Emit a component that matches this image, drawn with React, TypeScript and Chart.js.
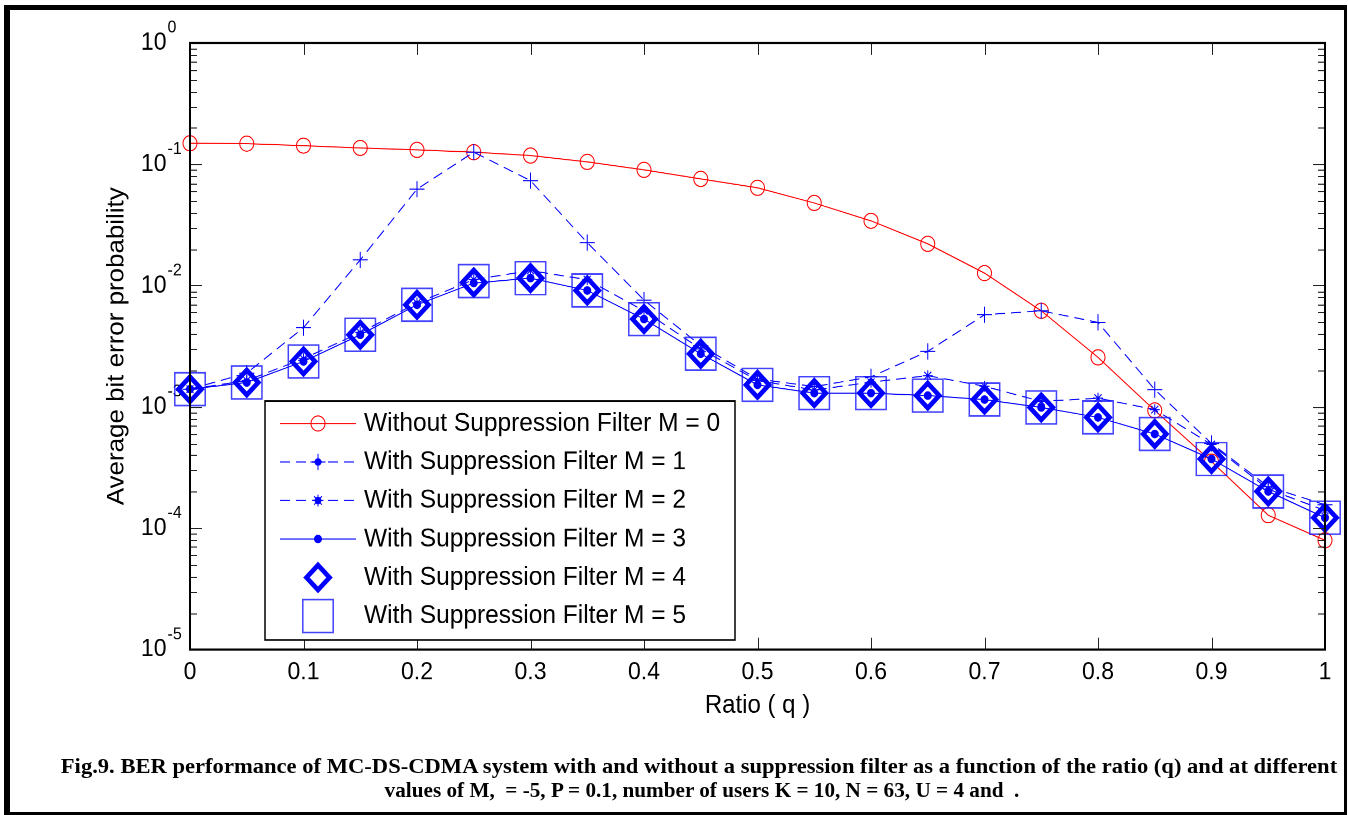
import React, { useEffect, useRef } from 'react';
import { Chart, registerables } from 'chart.js';

Chart.register(...registerables);

// Ratio q on the horizontal axis
const ratioQ = [0, 0.05, 0.1, 0.15, 0.2, 0.25, 0.3, 0.35, 0.4, 0.45, 0.5, 0.55, 0.6, 0.65, 0.7, 0.75, 0.8, 0.85, 0.9, 0.95, 1];

// Average bit error probability for each suppression-filter order M
const berM0 = [0.149, 0.148, 0.1426, 0.1365, 0.1314, 0.1259, 0.118, 0.1047, 0.09, 0.0758, 0.064, 0.048, 0.0342, 0.0221, 0.01268, 0.0062, 0.00256, 0.000936, 0.000354, 0.000128, 0.0000795];
const berM1 = [0.0014, 0.0019, 0.0045, 0.0163, 0.0624, 0.1259, 0.0734, 0.0226, 0.0076, 0.0032, 0.0017, 0.00147, 0.00177, 0.00287, 0.00575, 0.0062, 0.00497, 0.00139, 0.0005, 0.00022, 0.000156];
const berM2 = [0.0014, 0.00165, 0.0025, 0.0041, 0.0072, 0.0112, 0.0133, 0.0112, 0.0062, 0.003, 0.00165, 0.00138, 0.0016, 0.00181, 0.00148, 0.00111, 0.00118, 0.00095, 0.00049, 0.00021, 0.00014];
const berM3 = [0.0014, 0.00159, 0.00237, 0.00393, 0.00695, 0.0105, 0.01153, 0.00912, 0.0053, 0.00274, 0.00152, 0.0013, 0.0013, 0.00124, 0.00115, 0.00099, 0.00082, 0.000598, 0.000372, 0.000201, 0.000122];
const berM4 = [0.0014, 0.00159, 0.00237, 0.00393, 0.00695, 0.0106, 0.01153, 0.00912, 0.0053, 0.00274, 0.00152, 0.0013, 0.0013, 0.00124, 0.00115, 0.00099, 0.00082, 0.000598, 0.000372, 0.000201, 0.000122];
const berM5 = [0.0014, 0.00159, 0.00237, 0.00393, 0.00695, 0.0109, 0.01153, 0.00912, 0.0053, 0.00274, 0.00152, 0.0013, 0.0013, 0.00124, 0.00115, 0.00099, 0.00082, 0.000598, 0.000372, 0.000201, 0.000122];

// Axis ticks
const xTicks = [0, 0.1, 0.2, 0.3, 0.4, 0.5, 0.6, 0.7, 0.8, 0.9, 1];
const yExponents = [0, -1, -2, -3, -4, -5];

const seriesLabels = [
  'Without Suppression Filter M = 0',
  'With Suppression Filter M = 1',
  'With Suppression Filter M = 2',
  'With Suppression Filter M = 3',
  'With Suppression Filter M = 4',
  'With Suppression Filter M = 5',
];

const captionLine1 = 'Fig.9. BER performance of MC-DS-CDMA system with and without a suppression filter as a function of the ratio (q) and at different';
const captionLine2 = 'values of M,  = -5, P = 0.1, number of users K = 10, N = 63, U = 4 and  .';

// Layout (the canvas is drawn short and stretched vertically)
const PAGE_W = 1348;
const PAGE_H = 815;
const Y_STRETCH = 1.08;
const CANVAS_H = Math.round(PAGE_H / Y_STRETCH);
const PLOT_LEFT = 190;
const PLOT_RIGHT = 1326;
const PLOT_TOP = 43 / Y_STRETCH;
const PLOT_BOTTOM = 649.5 / Y_STRETCH;

const SANS = '"Liberation Sans", Arial, Helvetica, sans-serif';
const SERIF = '"Liberation Serif", "Times New Roman", Times, serif';
const RED = '#ff0000';
const BLUE = '#0000ff';
const SQUARE_BLUE = 'rgba(20,20,255,0.8)';

const toPoints = (ys: number[]) => ratioQ.map((x, i) => ({ x, y: ys[i] }));

type MarkerKind = 'circle' | 'plus' | 'star' | 'dot' | 'diamond' | 'square';

function drawMarker(ctx: CanvasRenderingContext2D, kind: MarkerKind, x: number, y: number, r: number) {
  ctx.beginPath();
  if (kind === 'circle' || kind === 'dot') {
    ctx.arc(x, y, r, 0, Math.PI * 2);
    if (kind === 'dot') ctx.fill();
    else ctx.stroke();
  } else if (kind === 'plus') {
    ctx.moveTo(x - r, y); ctx.lineTo(x + r, y);
    ctx.moveTo(x, y - r); ctx.lineTo(x, y + r);
    ctx.stroke();
  } else if (kind === 'star') {
    const d = r * Math.SQRT1_2;
    ctx.moveTo(x - r, y); ctx.lineTo(x + r, y);
    ctx.moveTo(x, y - r); ctx.lineTo(x, y + r);
    ctx.moveTo(x - d, y - d); ctx.lineTo(x + d, y + d);
    ctx.moveTo(x - d, y + d); ctx.lineTo(x + d, y - d);
    ctx.stroke();
  } else if (kind === 'diamond') {
    ctx.moveTo(x - r, y); ctx.lineTo(x, y - r); ctx.lineTo(x + r, y); ctx.lineTo(x, y + r);
    ctx.closePath();
    ctx.stroke();
  } else {
    const s = r * Math.SQRT1_2;
    ctx.rect(x - s, y - s, 2 * s, 2 * s);
    ctx.stroke();
  }
}

const axesPlugin = {
  id: 'berAxes',
  beforeDatasetsDraw(chart: any) {
    const { ctx } = chart;
    const yScale = chart.scales.y;
    ctx.save();
    ctx.fillStyle = '#000';
    ctx.textBaseline = 'middle';
    yExponents.forEach((e) => {
      const py = yScale.getPixelForValue(Math.pow(10, e));
      ctx.font = `23px ${SANS}`;
      ctx.textAlign = 'right';
      ctx.fillText('10', 166.5, py);
      ctx.font = `16px ${SANS}`;
      ctx.textAlign = 'left';
      ctx.fillText(String(e), 167.5, py - 14);
    });
    ctx.restore();
  },
  afterDatasetsDraw(chart: any) {
    const { ctx, chartArea } = chart;
    const { left, right, top, bottom } = chartArea;
    const xScale = chart.scales.x;
    const yScale = chart.scales.y;
    ctx.save();
    ctx.strokeStyle = '#222';
    ctx.lineWidth = 1;
    ctx.beginPath();
    xTicks.forEach((v) => {
      const px = Math.round(xScale.getPixelForValue(v)) + 0.5;
      ctx.moveTo(px, bottom); ctx.lineTo(px, bottom - 11);
      ctx.moveTo(px, top); ctx.lineTo(px, top + 11);
    });
    yExponents.forEach((e) => {
      if (e === 0) return;
      for (let m = 1; m <= 9; m++) {
        const py = Math.round(yScale.getPixelForValue(m * Math.pow(10, e))) + 0.5;
        const len = m === 1 ? 12 : 7;
        ctx.moveTo(left, py); ctx.lineTo(left + len, py);
        ctx.moveTo(right, py); ctx.lineTo(right - len, py);
      }
    });
    ctx.stroke();
    ctx.strokeStyle = '#000';
    ctx.lineWidth = 2;
    ctx.strokeRect(left, top, right - left, bottom - top);
    ctx.restore();
  },
  afterDraw(chart: any) {
    const { ctx } = chart;
    const boxL = 265;
    const boxR = 735;
    const boxT = 401 / Y_STRETCH;
    const boxB = 640 / Y_STRETCH;
    ctx.save();
    ctx.fillStyle = '#fff';
    ctx.fillRect(boxL, boxT, boxR - boxL, boxB - boxT);
    ctx.strokeStyle = '#000';
    ctx.lineWidth = 1.5;
    ctx.strokeRect(boxL, boxT, boxR - boxL, boxB - boxT);

    const rowY = (i: number) => (423.5 + 38.5 * i) / Y_STRETCH;
    const segL = 280;
    const segR = 356;
    const mx = 318;

    // line samples
    const lineRow = (i: number, color: string, dash: number[]) => {
      ctx.save();
      ctx.strokeStyle = color;
      ctx.lineWidth = 1;
      ctx.setLineDash(dash);
      ctx.beginPath();
      ctx.moveTo(segL, rowY(i));
      ctx.lineTo(segR, rowY(i));
      ctx.stroke();
      ctx.restore();
    };
    lineRow(0, RED, []);
    lineRow(1, BLUE, [10, 6]);
    lineRow(2, BLUE, [10, 6]);
    lineRow(3, BLUE, []);

    ctx.lineWidth = 1;
    ctx.strokeStyle = RED;
    drawMarker(ctx, 'circle', mx, rowY(0), 7);
    ctx.strokeStyle = BLUE;
    ctx.fillStyle = BLUE;
    drawMarker(ctx, 'plus', mx, rowY(1), 7.5);
    drawMarker(ctx, 'dot', mx, rowY(1), 3.5);
    drawMarker(ctx, 'star', mx, rowY(2), 5.5);
    drawMarker(ctx, 'dot', mx, rowY(2), 3.5);
    drawMarker(ctx, 'dot', mx, rowY(3), 4);
    ctx.lineWidth = 4.5;
    ctx.lineJoin = 'miter';
    drawMarker(ctx, 'diamond', mx, rowY(4), 11.5);
    ctx.lineWidth = 1.5;
    ctx.strokeStyle = SQUARE_BLUE;
    drawMarker(ctx, 'square', mx, rowY(5), 21.5);

    ctx.fillStyle = '#000';
    ctx.font = `24.5px ${SANS}`;
    ctx.textAlign = 'left';
    ctx.textBaseline = 'middle';
    seriesLabels.forEach((label, i) => ctx.fillText(label, 364, rowY(i)));
    ctx.restore();
  },
};

export default function App() {
  const canvasRef = useRef<HTMLCanvasElement | null>(null);

  useEffect(() => {
    if (!canvasRef.current) return;
    const chart = new Chart(canvasRef.current, {
      type: 'line',
      data: {
        datasets: [
          {
            label: seriesLabels[0],
            data: toPoints(berM0),
            borderColor: RED,
            borderWidth: 1,
            backgroundColor: 'transparent',
            pointStyle: 'circle',
            pointRadius: 7,
            pointBorderWidth: 1,
            pointBorderColor: RED,
            pointBackgroundColor: 'transparent',
            order: 6,
          },
          {
            label: seriesLabels[1],
            data: toPoints(berM1),
            borderColor: BLUE,
            borderWidth: 1,
            borderDash: [10, 6],
            pointStyle: 'cross',
            pointRadius: 7.5,
            pointBorderWidth: 1,
            pointBorderColor: BLUE,
            order: 5,
          },
          {
            label: seriesLabels[2],
            data: toPoints(berM2),
            borderColor: BLUE,
            borderWidth: 1,
            borderDash: [10, 6],
            pointStyle: 'star',
            pointRadius: 5,
            pointBorderWidth: 1,
            pointBorderColor: BLUE,
            order: 4,
          },
          {
            label: seriesLabels[3],
            data: toPoints(berM3),
            borderColor: BLUE,
            borderWidth: 1,
            pointStyle: 'circle',
            pointRadius: 4,
            pointBorderWidth: 0,
            pointBackgroundColor: BLUE,
            order: 3,
          },
          {
            label: seriesLabels[4],
            data: toPoints(berM4),
            showLine: false,
            pointStyle: 'rectRot',
            pointRadius: 11.5,
            pointBorderWidth: 4.5,
            pointBorderColor: BLUE,
            pointBackgroundColor: 'transparent',
            order: 2,
          },
          {
            label: seriesLabels[5],
            data: toPoints(berM5),
            showLine: false,
            pointStyle: 'rect',
            pointRadius: 21.5,
            pointBorderWidth: 1.5,
            pointBorderColor: SQUARE_BLUE,
            pointBackgroundColor: 'transparent',
            order: 1,
          },
        ].map((d: any) => ({ ...d, clip: false, tension: 0, fill: false })),
      },
      options: {
        responsive: false,
        animation: false,
        devicePixelRatio: 2,
        events: [],
        layout: { padding: { top: PLOT_TOP, right: PAGE_W - PLOT_RIGHT, left: 0, bottom: 0 } },
        plugins: {
          legend: { display: false },
          tooltip: { enabled: false },
          title: { display: false },
        },
        scales: {
          x: {
            type: 'linear',
            position: 'bottom',
            min: 0,
            max: 1,
            afterFit: (s: any) => { s.height = CANVAS_H - PLOT_BOTTOM; },
            afterBuildTicks: (s: any) => { s.ticks = xTicks.map((v) => ({ value: v })); },
            ticks: {
              color: '#000',
              font: { family: SANS, size: 23 },
              padding: 7.5,
              maxRotation: 0,
              autoSkip: false,
              callback: (v: any) => String(v),
            },
            grid: { display: false, drawTicks: false },
            border: { display: false },
            title: {
              display: true,
              text: 'Ratio ( q )',
              color: '#000',
              font: { family: SANS, size: 24 },
              padding: { top: 0, bottom: 87.4 },
            },
          },
          y: {
            type: 'logarithmic',
            position: 'left',
            min: 1e-5,
            max: 1,
            afterFit: (s: any) => { s.width = PLOT_LEFT; },
            ticks: { display: false },
            grid: { display: false, drawTicks: false },
            border: { display: false },
            title: {
              display: true,
              text: 'Average bit error probability',
              color: '#000',
              font: { family: SANS, size: 24 },
              padding: { top: 102.3, bottom: 0 },
            },
          },
        },
      },
      plugins: [axesPlugin],
    } as any);
    return () => chart.destroy();
  }, []);

  const captionLine = (text: string, top: number, centerX: number, widen: number) => (
    <div
      style={{
        position: 'absolute', left: centerX - 700, top, width: 1400, textAlign: 'center', color: '#000',
        fontFamily: SERIF, fontWeight: 'bold', fontSize: 20, lineHeight: '24px', whiteSpace: 'pre',
        transform: `scaleX(${widen})`, transformOrigin: '50% 50%',
      }}
    >
      {text}
    </div>
  );

  return (
    <div style={{ position: 'fixed', left: 0, top: 0, width: PAGE_W, height: PAGE_H, background: '#fff', overflow: 'hidden' }}>
      <div
        style={{
          position: 'absolute', left: 4, top: 5, width: 1343, height: 810, boxSizing: 'border-box',
          borderStyle: 'solid', borderColor: '#000', borderWidth: '5px 3px 3px 6px',
        }}
      />
      <div style={{ position: 'absolute', left: 0, top: 0, width: PAGE_W, height: CANVAS_H, transform: `scaleY(${Y_STRETCH})`, transformOrigin: '0 0' }}>
        <canvas ref={canvasRef} width={PAGE_W} height={CANVAS_H} style={{ display: 'block' }} />
      </div>
      {captionLine(captionLine1, 754, 699, 1.129)}
      {captionLine(captionLine2, 778, 701.5, 1.06)}
    </div>
  );
}
